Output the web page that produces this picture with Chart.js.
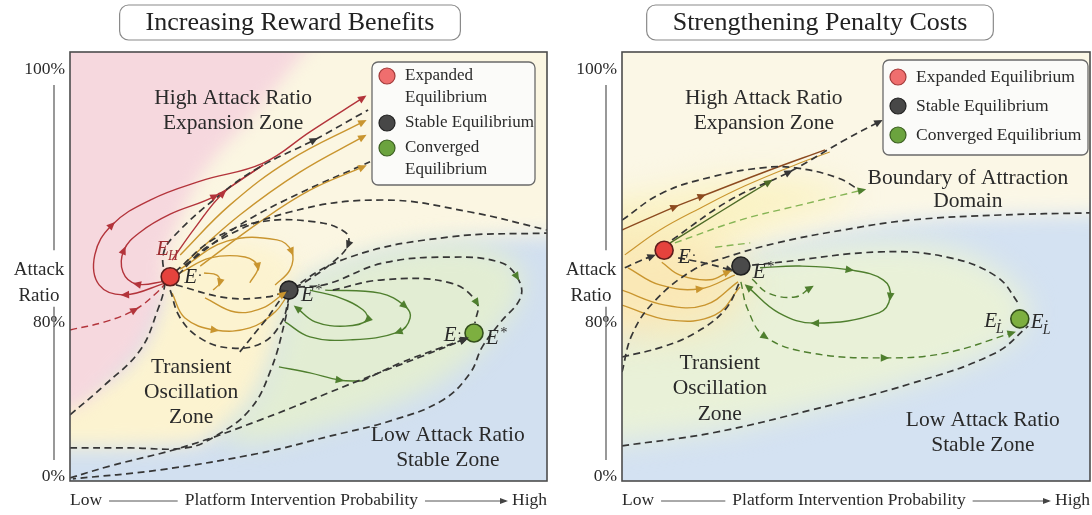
<!DOCTYPE html>
<html>
<head>
<meta charset="utf-8">
<script src="https://cdn.jsdelivr.net/npm/chart.js@4/dist/chart.umd.min.js"></script>
<style>
  html, body { margin: 0; padding: 0; background: #fff; }
  #wrap { position: relative; width: 1092px; height: 515px; overflow: hidden; background: #fff; }
  canvas { position: absolute; top: 0; }
</style>
</head>
<body>
<div id="wrap">
  <canvas id="reward" width="555" height="515" style="left:0"></canvas>
  <canvas id="penalty" width="537" height="515" style="left:555px"></canvas>
</div>
<script>
// ---------- shared axis text ----------
const yTickValues = [1, 37, 96];
const yTickLabels = ['0%', '80%', '100%'];
const yAxisTitle = ['Attack', 'Ratio'];
const xAxisEnds = ['Low', 'High'];
const xAxisTitle = 'Platform Intervention Probability';
const equilibriumNames = ['Expanded Equilibrium', 'Stable Equilibrium', 'Converged Equilibrium'];

// ---------- Increasing Reward Benefits (x: intervention %, y: attack-ratio scale) ----------
const rewardEquilibriumX = [21.0, 45.9, 84.7];
const rewardEquilibriumY = [47.6, 44.5, 34.5];

const rewardSeparatrix = [[0,15.4],[7.3,22.4],[14.7,30.5],[18.4,39.9],[19.9,46.2],[19.5,52.5],[21.4,56.6],[31.4,66.7],[39.8,73.2],[51.2,79.5],[62.5,86.5]];
const rewardTransientEdge = [[0,7.7],[12.6,7.7],[24.3,7.7],[30.2,10.3],[37.7,16.6],[42.1,25.9],[45.1,37.5],[46.1,44.1]];
const rewardCornerToConverged = [[0,0.7],[8.4,3.5],[23.7,7.9],[39.8,14.2],[60.8,23.5],[73.4,28.9],[82.6,32.9]];
const rewardOuterLoop = [[47.8,45.2],[53.9,45.9],[65.6,50.8],[79.7,52.2],[90.1,51.0],[93.7,47.6],[94.5,42.9],[90.1,36.8],[86.4,31.2],[83.9,25.2],[78.2,18.9],[67.7,14.2],[53.9,10.3],[39.8,6.5],[18.9,2.6],[0.6,0.5]];
const rewardInnerArc = [[55.1,44.5],[65.6,46.9],[79.7,46.2],[85.3,41.5],[84.9,36.8]];
const rewardUpperArc = [[22.6,48.0],[29.4,55.0],[46.1,62.7],[65.6,65.5],[83.9,62.7],[100,58.5]];
const rewardStableRidge = [[35.6,30.1],[41.0,37.5],[46.1,44.3],[58.7,52.2],[79.7,56.9],[100,57.8]];
const rewardDriftToStable = [[22.2,45.7],[32.9,42.7],[41.3,42.9],[45.1,44.1]];
const rewardManifold = [[22.0,48.7],[30.4,56.6],[39.8,60.4],[51.4,60.4],[57.7,58.0],[58.3,55.0],[55.1,51.0],[49.3,46.4],[46.8,45.0]];
const rewardUnderArc = [[21.0,44.5],[23.1,38.0],[27.3,33.3],[33.5,31.0],[40.3,32.2],[44.4,37.1],[45.9,42.7]];
const rewardRedOuter = [[20.1,46.2],[11.5,43.4],[6.1,45.7],[5.2,52.7],[8.8,59.7],[16.8,65.5],[27.3,69.9],[40.5,74.1],[50.3,81.4],[61.4,89.3]];
const rewardRedInner = [[20.1,46.6],[14.0,45.9],[11.1,48.7],[11.3,53.8],[14.7,58.0],[21.0,62.2],[30.4,66.4],[40.5,73.7]];
const rewardRedRise = [[21.4,51.5],[26.2,59.0],[32.1,67.1],[40.5,73.7]];
const rewardRedInflow = [[0,35.2],[7.3,37.1],[13.6,39.9],[18.4,44.1],[20.1,46.2]];
const rewardAmber1 = [[23.1,52.7],[33.5,64.3],[46.1,74.8],[61.4,83.7]];
const rewardAmber2 = [[24.3,51.0],[35.6,62.0],[48.2,72.0],[61.4,80.2]];
const rewardAmber3 = [[27.3,50.1],[39.8,60.4],[50.3,67.8],[61.4,73.2]];
const rewardEscape = [[24.1,50.3],[35.6,59.7],[48.2,67.1],[62.9,74.4]];
const rewardAmberLoopA = [[23.1,49.4],[32.9,55.9],[43.4,56.2],[46.5,53.4],[46.1,49.2],[43.0,45.7]];
const rewardAmberLoopB = [[23.1,48.5],[29.4,52.0],[36.7,52.2],[39.4,49.9],[37.7,46.2]];
const rewardAmberHook = [[28.1,48.5],[30.8,48.0],[31.4,46.2],[30.0,44.5]];
const rewardAmberLow1 = [[21.4,43.8],[24.1,38.0],[30.4,35.2],[37.7,35.7],[43.0,39.4],[45.5,43.1]];
const rewardAmberLow2 = [[28.3,42.7],[34.6,39.4],[40.3,40.3],[44.7,43.6]];
const rewardGreenLoop1 = [[50.3,44.5],[56.6,42.7],[61.4,39.9],[62.3,37.5],[57.7,36.1],[51.4,37.1],[47.6,40.3]];
const rewardGreenLoop2 = [[53.5,44.5],[65.0,43.8],[70.2,40.8],[71.3,38.0],[68.8,34.7],[58.7,32.9],[50.3,33.6],[45.1,37.1]];
const rewardGreenFlow = [[43.8,26.6],[50.3,25.2],[56.6,23.5],[61.2,23.3]];
const rewardGreenApproach = [[61.2,23.3],[69.2,27.5],[77.6,31.0],[82.8,33.1]];

// shaded regions (same axes; outer corners pushed well past the frame)
const rewardZoneCream = [[-30,130],[130,130],[130,57.8],[79.7,56.9],[58.7,52.2],[46.1,44.3],[22,44],[-30,42]];
const rewardZoneYellow = [[19.9,46.2],[18.4,39.9],[14.7,30.5],[7.3,22.4],[-30,12],[-30,7.7],[24.3,7.7],[30.2,10.3],[37.7,16.6],[42.1,25.9],[45.1,37.5],[46.1,44.1],[48.2,51.5],[35.6,57.3],[23.1,53]];
const rewardZoneGreen = [[46.1,44.1],[54.5,50.1],[69.2,54.5],[83.9,56.2],[95,51],[95,42.2],[89,34],[83.9,28],[73.4,20],[54.5,12.8],[37.7,8],[30.2,10.3],[37.7,16.6],[42.1,25.9],[45.1,37.5]];
const rewardZonePink = [[-30,130],[70,130],[39.8,86.5],[27.3,72.5],[21.4,56.6],[19.5,52.7],[19.9,46.2],[18.4,39.9],[14.7,30.5],[7.3,22.4],[0,15.4],[-30,13]];

// ---------- Strengthening Penalty Costs ----------
const penaltyEquilibriumX = [9.0, 25.4, 85.0];
const penaltyEquilibriumY = [53.8, 50.1, 37.8];

const penaltyBoundaryArc = [[0,60.8],[8.5,67.1],[19.2,70.9],[29.9,73.0],[37.0,73.0],[46.2,70.6],[51.3,67.4]];
const penaltyInflow = [[0.6,49.7],[3.8,51.3],[6.4,52.4]];
const penaltyEscape = [[10.7,56.2],[23.1,65.5],[35.7,72.0],[47.6,79.5],[54.9,83.7]];
const penaltyBrown = [[0,58.5],[11.3,63.9],[17.1,66.4],[29.9,71.8],[43.4,77.2]];
const penaltyAmberThin = [[0.6,52.7],[8.1,58.5],[16.7,63.6],[26.3,68.8],[38.0,74.1],[44.4,76.7]];
const penaltyOlive = [[10.3,55.5],[20.9,62.7],[31.4,69.7]];
const penaltyLightGreen = [[11.3,55.5],[25.2,60.8],[38.0,64.3],[51.3,67.8]];
const penaltyLightGreenShort = [[19.9,54.5],[27.4,55.5]];
const penaltyDriftToStable = [[12.0,52.0],[17.7,50.8],[23.1,49.2]];
const penaltyRidge = [[0,25.4],[2.1,34.0],[6.6,41.5],[15.2,49.2],[22.4,52.2],[33.1,55.5],[47.2,58.5],[61.5,60.8],[80.8,62.0],[100,62.5]];
const penaltyLowerApproach = [[0,28.9],[8.5,31.2],[15.6,34.5],[22.0,39.9],[25.4,46.9]];
const penaltyDomainEdge = [[0,8.2],[19.2,11.2],[40.6,16.6],[62.0,22.8],[79.7,29.8],[86.8,36.1]];
const penaltyOuterArc = [[27.8,50.3],[33.8,51.0],[55.1,53.4],[69.4,52.2],[80.1,47.6],[85.0,41.0]];
const penaltyGreenPath = [[25.4,46.4],[26.9,39.9],[30.6,33.6],[40.6,29.8],[56.2,28.7],[69.0,29.8],[83.3,34.5]];
const penaltyGreenLoop = [[29.5,49.7],[38.0,50.1],[48.7,49.2],[55.8,46.9],[57.3,42.9],[54.9,39.2],[41.2,36.8],[33.5,39.2],[26.9,45.2]];
const penaltyGreenHook = [[27.8,47.1],[31.2,43.8],[37.0,42.9],[40.2,45.0]];
const penaltyAmberA = [[1.3,49.7],[8.1,45.7],[16.7,44.8],[24.1,48.0]];
const penaltyAmberB = [[0,44.5],[9.2,41.0],[17.7,41.0],[24.8,46.4]];
const penaltyAmberC = [[0,41.0],[10.3,37.5],[19.9,38.7],[25.2,45.2]];
const penaltyAmberD = [[8.5,51.0],[12.4,48.0],[18.8,46.9],[22.6,48.7]];

const penaltyZoneCream = [[-30,130],[130,130],[130,62.5],[80.8,62.0],[61.5,60.8],[47.2,58.5],[33.1,55.5],[22.4,52.2],[15.2,49.2],[6.6,41.5],[2.1,34.0],[-30,22]];
const penaltyZoneGreen = [[-30,22],[2.1,34.0],[6.6,41.5],[15.2,49.2],[27.4,52.7],[38,54.5],[55.1,56],[69.4,55],[80.1,50],[87.2,42],[86.8,36.1],[79.7,29.8],[62.0,22.8],[40.6,16.6],[19.2,11.2],[-30,6]];
const penaltyZoneGlow = [[-30,62],[8.5,67.1],[19.2,70.2],[33,71],[46,69],[51,66],[38,62],[26,57],[16.7,50],[8,44],[-30,40]];
const penaltyZoneWarm = [[-30,58],[12,57],[24,53],[27,46],[22,37],[10,34],[-30,33]];

// ---------- styling ----------
const SERIF = '"Liberation Serif", "Times New Roman", serif';
const INK = '#2a2a2a';
const DASH = [7, 4.5];
const COL = {
  dash: '#363636', red: '#b3343b', amber: '#c9952f', brown: '#8c4a1f',
  green: '#4f7f2e', lightGreen: '#86b455', olive: '#4e6b27'
};
const EQ_FILL = ['#e5433d', '#4a4a4a', '#7daf40'];
const EQ_EDGE = ['#5e1d1b', '#1f1f1f', '#34501c'];
const LEGEND_FILL = ['#ef6e6e', '#474747', '#6ba33e'];
const LEGEND_EDGE = ['#a23a3a', '#222222', '#3c5f22'];

function toPoints(a) { return a.map(p => ({ x: p[0], y: p[1] })); }

function flow(label, data, color, extra) {
  return Object.assign({
    label, data: toPoints(data), showLine: true,
    pointRadius: 0, pointHoverRadius: 0, pointHitRadius: 0,
    fill: false, tension: 0.4, borderColor: color, borderWidth: 1.4, order: 1
  }, extra || {});
}
const dashed = (label, data, extra) => flow(label, data, COL.dash, Object.assign({ borderDash: DASH, borderWidth: 1.7 }, extra || {}));

// ---------- plugins ----------
function smoothClosedPath(ctx, p) {
  const n = p.length;
  const mid = (a, b) => ({ x: (a.x + b.x) / 2, y: (a.y + b.y) / 2 });
  const m0 = mid(p[n - 1], p[0]);
  ctx.beginPath();
  ctx.moveTo(m0.x, m0.y);
  for (let i = 0; i < n; i++) {
    const m = mid(p[i], p[(i + 1) % n]);
    ctx.quadraticCurveTo(p[i].x, p[i].y, m.x, m.y);
  }
  ctx.closePath();
}

function zonePlugin(P) {
  return {
    id: 'zones',
    beforeDatasetsDraw(chart) {
      const { ctx, chartArea: a, scales: { x, y } } = chart;
      ctx.save();
      ctx.beginPath();
      ctx.rect(a.left, a.top, a.width, a.height);
      ctx.clip();
      ctx.fillStyle = P.zoneBase;
      ctx.fillRect(a.left, a.top, a.width, a.height);
      P.zones.forEach(z => {
        const pix = z.pts.map(q => ({ x: x.getPixelForValue(q[0]), y: y.getPixelForValue(q[1]) }));
        ctx.filter = `blur(${z.blur}px)`;
        ctx.fillStyle = z.color;
        smoothClosedPath(ctx, pix);
        ctx.fill();
      });
      ctx.restore();
    }
  };
}

const arrowPlugin = {
  id: 'flowArrows',
  afterDatasetsDraw(chart) {
    const { ctx, chartArea: a } = chart;
    ctx.save();
    ctx.beginPath();
    ctx.rect(a.left, a.top, a.width, a.height);
    ctx.clip();
    chart.data.datasets.forEach((ds, i) => {
      if (!ds.arrows) return;
      const pts = chart.getDatasetMeta(i).data;
      ds.arrows.forEach(k => {
        const p = pts[k];
        let dx = p.cp2x - p.cp1x, dy = p.cp2y - p.cp1y;
        if (!isFinite(dx) || Math.hypot(dx, dy) < 1e-6) {
          const q = pts[k - 1] || p, r = pts[k + 1] || p;
          dx = r.x - q.x; dy = r.y - q.y;
        }
        const len = Math.hypot(dx, dy) || 1;
        dx /= len; dy /= len;
        const L = ds.arrowSize || 8.5, W = L * 0.45;
        const tx = p.x + dx * L * 0.5, ty = p.y + dy * L * 0.5;
        const bx = tx - dx * L, by = ty - dy * L;
        ctx.fillStyle = ds.arrowColor || ds.borderColor;
        ctx.beginPath();
        ctx.moveTo(tx, ty);
        ctx.lineTo(bx - dy * W, by + dx * W);
        ctx.lineTo(bx + dy * W, by - dx * W);
        ctx.closePath();
        ctx.fill();
      });
    });
    ctx.restore();
  }
};

function drawSymbol(ctx, x, y, lab) {
  const big = `italic 21px ${SERIF}`, small = `italic 14px ${SERIF}`;
  ctx.font = big;
  const wE = ctx.measureText(lab.text).width;
  ctx.font = small;
  const wSup = lab.sup ? ctx.measureText(lab.sup).width : 0;
  const wSub = lab.sub ? ctx.measureText(lab.sub).width : 0;
  const total = wE + Math.max(wSup, wSub) + 1;
  let sx = x;
  if (lab.align === 'right') sx = x - total;
  else if (lab.align === 'center') sx = x - total / 2;
  ctx.fillStyle = lab.color || INK;
  ctx.textAlign = 'left';
  ctx.textBaseline = 'middle';
  ctx.font = big;
  ctx.fillText(lab.text, sx, y);
  ctx.font = small;
  if (lab.sup) ctx.fillText(lab.sup, sx + wE + 1, y - (lab.sup === '*' ? 5 : 1));
  if (lab.sub) ctx.fillText(lab.sub, sx + wE - 1, y + 7);
}

function roundBox(ctx, x, y, w, h, r) {
  ctx.beginPath();
  ctx.moveTo(x + r, y);
  ctx.arcTo(x + w, y, x + w, y + h, r);
  ctx.arcTo(x + w, y + h, x, y + h, r);
  ctx.arcTo(x, y + h, x, y, r);
  ctx.arcTo(x, y, x + w, y, r);
  ctx.closePath();
}

function annotatePlugin(P) {
  return {
    id: 'annotate',
    afterDatasetsDraw(chart) {
      const { ctx, chartArea: a, scales: { x, y } } = chart;
      ctx.save();
      // zone captions
      ctx.fillStyle = INK;
      ctx.textAlign = 'center';
      ctx.textBaseline = 'middle';
      ctx.font = `21.5px ${SERIF}`;
      P.zoneLabels.forEach(z => {
        const px = x.getPixelForValue(z.x), py = y.getPixelForValue(z.y);
        z.lines.forEach((t, i) => ctx.fillText(t, px, py + i * z.step));
      });
      // equilibrium symbols
      P.eqLabels.forEach(l => {
        const px = x.getPixelForValue(P.eqX[l.at]) + l.dx;
        const py = y.getPixelForValue(P.eqY[l.at]) + l.dy;
        drawSymbol(ctx, px, py, l);
      });
      // legend
      const L = P.legend;
      const lx = a.left + L.x, ly = a.top + L.y;
      roundBox(ctx, lx, ly, L.w, L.h, 6);
      ctx.fillStyle = 'rgba(251,251,250,0.96)';
      ctx.fill();
      ctx.strokeStyle = '#6a6a6a';
      ctx.lineWidth = 1.3;
      ctx.stroke();
      ctx.font = `${L.font}px ${SERIF}`;
      ctx.textAlign = 'left';
      equilibriumNames.forEach((name, i) => {
        const lines = L.wrap[i] ? name.split(' ') : [name];
        const cy = ly + L.firstLine[i];
        ctx.beginPath();
        ctx.arc(lx + 15, cy, 8, 0, Math.PI * 2);
        ctx.fillStyle = LEGEND_FILL[i];
        ctx.fill();
        ctx.strokeStyle = LEGEND_EDGE[i];
        ctx.lineWidth = 1.2;
        ctx.stroke();
        ctx.fillStyle = INK;
        lines.forEach((t, j) => ctx.fillText(t, lx + 33, cy + j * L.lineH));
      });
      // plot frame
      ctx.strokeStyle = '#4d4d4d';
      ctx.lineWidth = 1.6;
      ctx.strokeRect(a.left, a.top, a.width, a.height);
      ctx.restore();
    },
    afterDraw(chart) {
      const { ctx, chartArea: a, scales: { y } } = chart;
      ctx.save();
      // title badge
      ctx.font = `26px ${SERIF}`;
      const tw = ctx.measureText(P.title).width;
      const bw = tw + 52;
      roundBox(ctx, P.titleX - bw / 2, 5, bw, 35, 9);
      ctx.fillStyle = '#ffffff';
      ctx.fill();
      ctx.strokeStyle = '#8a8a8a';
      ctx.lineWidth = 1.2;
      ctx.stroke();
      ctx.fillStyle = '#222';
      ctx.textAlign = 'center';
      ctx.textBaseline = 'middle';
      ctx.fillText(P.title, P.titleX, 23);
      // y-axis caption with guide rules
      ctx.font = `19px ${SERIF}`;
      ctx.fillStyle = INK;
      const cx = a.left - 31;
      ctx.fillText(yAxisTitle[0], cx, y.getPixelForValue(49.2));
      ctx.fillText(yAxisTitle[1], cx, y.getPixelForValue(43.1));
      ctx.strokeStyle = '#555';
      ctx.lineWidth = 1.2;
      const gx = a.left - 16;
      ctx.beginPath();
      ctx.moveTo(gx, y.getPixelForValue(92.3)); ctx.lineTo(gx, y.getPixelForValue(53.8));
      ctx.moveTo(gx, y.getPixelForValue(40.6)); ctx.lineTo(gx, y.getPixelForValue(4.9));
      ctx.stroke();
      // x-axis caption: Low ---- title ----> High
      const by = a.bottom + 19;
      ctx.font = `17.5px ${SERIF}`;
      ctx.textAlign = 'left';
      ctx.fillText(xAxisEnds[0], a.left, by);
      const wLow = ctx.measureText(xAxisEnds[0]).width;
      ctx.textAlign = 'right';
      ctx.fillText(xAxisEnds[1], a.right, by);
      const wHigh = ctx.measureText(xAxisEnds[1]).width;
      const mid = a.left + a.width * 0.485;
      ctx.textAlign = 'center';
      ctx.fillText(xAxisTitle, mid, by);
      const wT = ctx.measureText(xAxisTitle).width;
      ctx.strokeStyle = '#555';
      ctx.lineWidth = 1;
      const ly = by + 1;
      const e2 = a.right - wHigh - 6;
      ctx.beginPath();
      ctx.moveTo(a.left + wLow + 7, ly); ctx.lineTo(mid - wT / 2 - 7, ly);
      ctx.moveTo(mid + wT / 2 + 7, ly); ctx.lineTo(e2, ly);
      ctx.stroke();
      ctx.fillStyle = '#444';
      ctx.beginPath();
      ctx.moveTo(e2 + 2, ly); ctx.lineTo(e2 - 6, ly - 3); ctx.lineTo(e2 - 6, ly + 3);
      ctx.closePath();
      ctx.fill();
      ctx.restore();
    }
  };
}

function makePanel(P) {
  const canvas = document.getElementById(P.canvas);
  const equilibria = {
    label: 'Equilibria',
    data: P.eqX.map((v, i) => ({ x: v, y: P.eqY[i] })),
    showLine: false, pointRadius: 9, pointHoverRadius: 9,
    pointBackgroundColor: EQ_FILL, pointBorderColor: EQ_EDGE, pointBorderWidth: 1.6, order: 0
  };
  return new Chart(canvas, {
    type: 'scatter',
    data: { datasets: [equilibria, ...P.curves] },
    options: {
      responsive: false, animation: false, devicePixelRatio: 1, events: [],
      layout: { autoPadding: false, padding: { left: 0, top: 52, right: P.padRight, bottom: 34 } },
      plugins: { legend: { display: false }, tooltip: { enabled: false } },
      scales: {
        x: { type: 'linear', min: 0, max: 100, display: false },
        y: {
          type: 'linear', min: 0, max: 100,
          afterBuildTicks(s) { s.ticks = yTickValues.map(v => ({ value: v })); },
          afterFit(s) { s.width = P.axisWidth; s.paddingTop = 0; s.paddingBottom = 0; },
          ticks: {
            callback: (v, i) => yTickLabels[i], autoSkip: false, padding: 5,
            font: { family: SERIF, size: 17.5 }, color: INK
          },
          grid: { display: false, drawTicks: false },
          border: { display: false }
        }
      }
    },
    plugins: [zonePlugin(P), arrowPlugin, annotatePlugin(P)]
  });
}

// ---------- panels ----------
makePanel({
  canvas: 'reward', title: 'Increasing Reward Benefits', titleX: 290,
  padRight: 8, axisWidth: 70,
  eqX: rewardEquilibriumX, eqY: rewardEquilibriumY,
  zoneBase: 'rgb(210,224,240)',
  zones: [
    { pts: rewardZoneCream, color: 'rgb(251,246,226)', blur: 10 },
    { pts: rewardZoneYellow, color: 'rgb(252,243,208)', blur: 10 },
    { pts: rewardZoneGreen, color: 'rgb(226,237,211)', blur: 12 },
    { pts: rewardZonePink, color: 'rgb(246,216,222)', blur: 8 }
  ],
  curves: [
    dashed('separatrix', rewardSeparatrix, { arrows: [9] }),
    dashed('transient edge', rewardTransientEdge),
    dashed('corner path', rewardCornerToConverged, { arrows: [6] }),
    dashed('outer loop', rewardOuterLoop, { arrows: [5], arrowColor: COL.green }),
    dashed('inner arc', rewardInnerArc, { arrows: [3], arrowColor: COL.green }),
    dashed('upper arc', rewardUpperArc),
    dashed('stable ridge', rewardStableRidge),
    dashed('drift', rewardDriftToStable, { arrows: [3] }),
    dashed('manifold', rewardManifold, { arrows: [5] }),
    dashed('under arc', rewardUnderArc),
    flow('red outer', rewardRedOuter, COL.red, { arrows: [1, 4, 9] }),
    flow('red inner', rewardRedInner, COL.red, { arrows: [1, 3, 6] }),
    flow('red rise', rewardRedRise, COL.red, { arrows: [2] }),
    flow('red inflow', rewardRedInflow, COL.red, { borderDash: DASH, arrows: [2] }),
    flow('amber 1', rewardAmber1, COL.amber, { arrows: [3] }),
    flow('amber 2', rewardAmber2, COL.amber, { arrows: [3] }),
    flow('amber 3', rewardAmber3, COL.amber, { arrows: [3] }),
    dashed('escape', rewardEscape),
    flow('amber loop A', rewardAmberLoopA, COL.amber, { arrows: [3] }),
    flow('amber loop B', rewardAmberLoopB, COL.amber, { arrows: [3] }),
    flow('amber hook', rewardAmberHook, COL.amber, { arrows: [2] }),
    flow('amber low 1', rewardAmberLow1, COL.amber, { arrows: [2] }),
    flow('amber low 2', rewardAmberLow2, COL.amber, { arrows: [3] }),
    flow('green loop 1', rewardGreenLoop1, COL.green, { arrows: [3, 6] }),
    flow('green loop 2', rewardGreenLoop2, COL.green, { arrows: [2, 4] }),
    flow('green flow', rewardGreenFlow, COL.green, { arrows: [2] }),
    dashed('green approach', rewardGreenApproach, { arrows: [3] })
  ],
  zoneLabels: [
    { lines: ['High Attack Ratio', 'Expansion Zone'], x: 34.2, y: 89.3, step: 25.5 },
    { lines: ['Transient', 'Oscillation', 'Zone'], x: 25.4, y: 26.6, step: 25 },
    { lines: ['Low Attack Ratio', 'Stable Zone'], x: 79.2, y: 10.7, step: 25 }
  ],
  eqLabels: [
    { at: 0, text: 'E', sub: 'H', dx: -2, dy: -27, align: 'center', color: '#9e2f33' },
    { at: 0, text: 'E', sup: '·', dx: 14, dy: 1, align: 'left' },
    { at: 1, text: 'E', sup: '*', dx: 12, dy: 5, align: 'left' },
    { at: 2, text: 'E', sup: '·', dx: -13, dy: 2, align: 'right' },
    { at: 2, text: 'E', sup: '*', dx: 12, dy: 5, align: 'left' }
  ],
  legend: { x: 302, y: 10, w: 163, h: 123, wrap: [true, false, true], firstLine: [14, 61, 86], lineH: 22, font: 17 }
});

makePanel({
  canvas: 'penalty', title: 'Strengthening Penalty Costs', titleX: 265,
  padRight: 2, axisWidth: 67,
  eqX: penaltyEquilibriumX, eqY: penaltyEquilibriumY,
  zoneBase: 'rgb(212,226,242)',
  zones: [
    { pts: penaltyZoneCream, color: 'rgb(251,247,230)', blur: 10 },
    { pts: penaltyZoneGreen, color: 'rgb(233,241,216)', blur: 14 },
    { pts: penaltyZoneGlow, color: 'rgb(250,242,196)', blur: 16 },
    { pts: penaltyZoneWarm, color: 'rgb(250,232,182)', blur: 18 }
  ],
  curves: [
    dashed('boundary arc', penaltyBoundaryArc),
    dashed('inflow', penaltyInflow, { arrows: [2] }),
    dashed('escape', penaltyEscape, { arrows: [2, 4] }),
    flow('brown', penaltyBrown, COL.brown, { arrows: [1, 2] }),
    flow('amber thin', penaltyAmberThin, COL.amber, { borderWidth: 1.1 }),
    flow('olive', penaltyOlive, COL.olive, { arrows: [2] }),
    flow('light green', penaltyLightGreen, COL.lightGreen, { borderDash: DASH, arrows: [3], arrowColor: COL.green }),
    flow('light green short', penaltyLightGreenShort, COL.lightGreen, { borderDash: DASH }),
    dashed('drift', penaltyDriftToStable, { arrows: [2] }),
    dashed('ridge', penaltyRidge),
    dashed('lower approach', penaltyLowerApproach),
    dashed('domain edge', penaltyDomainEdge),
    dashed('outer arc', penaltyOuterArc),
    flow('green path', penaltyGreenPath, COL.green, { borderDash: DASH, arrows: [2, 4, 6] }),
    flow('green loop', penaltyGreenLoop, COL.green, { arrows: [2, 4, 6, 8] }),
    flow('green hook', penaltyGreenHook, COL.green, { borderDash: DASH, arrows: [3] }),
    flow('amber A', penaltyAmberA, COL.amber, { arrows: [2] }),
    flow('amber B', penaltyAmberB, COL.amber),
    flow('amber C', penaltyAmberC, COL.amber),
    flow('amber D', penaltyAmberD, COL.amber, { arrows: [3] })
  ],
  zoneLabels: [
    { lines: ['High Attack Ratio', 'Expansion Zone'], x: 30.3, y: 89.3, step: 25.5 },
    { lines: ['Boundary of Attraction', 'Domain'], x: 73.9, y: 70.6, step: 23 },
    { lines: ['Transient', 'Oscillation', 'Zone'], x: 20.9, y: 27.5, step: 25.5 },
    { lines: ['Low Attack Ratio', 'Stable Zone'], x: 77.1, y: 14.2, step: 25 }
  ],
  eqLabels: [
    { at: 0, text: 'E', sup: '·', dx: 14, dy: 7, align: 'left' },
    { at: 1, text: 'E', sup: '*', dx: 12, dy: 6, align: 'left' },
    { at: 2, text: 'E', sup: '·', sub: 'L', dx: -14, dy: 3, align: 'right' },
    { at: 2, text: 'E', sup: '·', sub: 'L', dx: 11, dy: 4, align: 'left' }
  ],
  legend: { x: 261, y: 8, w: 205, h: 95, wrap: [false, false, false], firstLine: [17, 46, 75], lineH: 22, font: 17.5 }
});
</script>
</body>
</html>
